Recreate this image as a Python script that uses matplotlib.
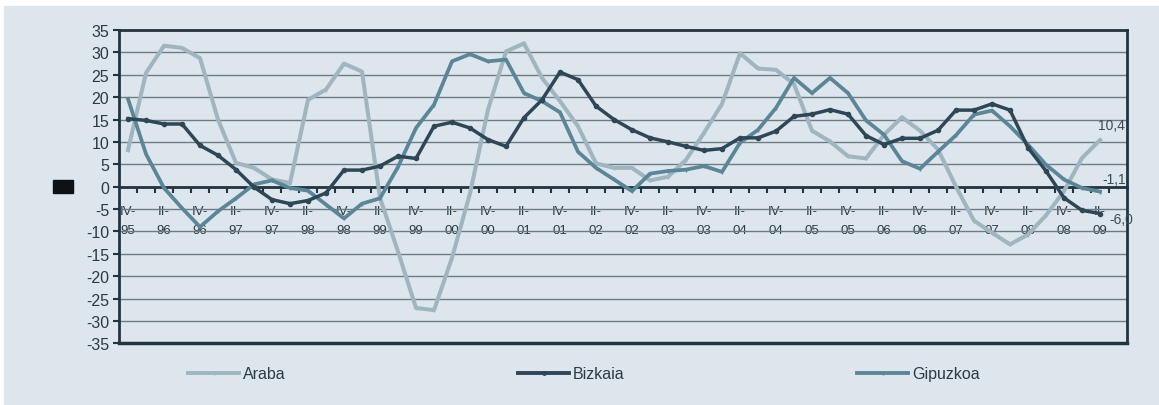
import numpy as np
import matplotlib
matplotlib.use('Agg')
import matplotlib.pyplot as plt
from matplotlib.lines import Line2D
from matplotlib.patches import Rectangle

plt.rcParams['font.family'] = ['Liberation Sans', 'DejaVu Sans']
plt.rcParams['axes.unicode_minus'] = False

# quarterly rate, IV-95 .. II-09
araba = [8.2, 25.4, 31.5, 31.0, 28.7, 15.0, 5.3, 4.2, 1.6, 0.8,
         19.4, 21.7, 27.5, 25.7, -2.5, -14.5, -27.1, -27.6, -15.9, -1.5,
         17.2, 30.2, 32.0, 24.3, 19.1, 13.5, 5.2, 4.2, 4.2, 1.4,
         2.2, 6.0, 12.0, 18.5, 29.8, 26.4, 26.1, 22.9, 12.5, 10.1,
         6.8, 6.3, 11.6, 15.5, 12.5, 8.3, 0.0, -7.6, -10.3, -12.9,
         -10.7, -6.4, -1.0, 6.4, 10.4]
bizkaia = [15.2, 14.8, 14.0, 14.0, 9.2, 7.0, 3.8, -0.1, -2.9, -3.8,
           -3.1, -1.4, 3.7, 3.7, 4.6, 6.8, 6.3, 13.5, 14.4, 13.1,
           10.5, 9.0, 15.4, 19.4, 25.6, 23.9, 18.0, 15.0, 12.7, 10.9,
           10.0, 9.0, 8.1, 8.5, 10.9, 10.9, 12.4, 15.7, 16.2, 17.2,
           16.2, 11.4, 9.4, 10.8, 10.8, 12.6, 17.1, 17.1, 18.5, 17.1,
           8.7, 3.5, -2.5, -5.3, -6.0]
gipuzkoa = [19.6, 7.3, -0.3, -4.8, -9.0, -5.5, -2.6, 0.5, 1.4, -0.3,
            -0.9, -4.0, -7.1, -3.8, -2.6, 4.4, 13.1, 18.3, 28.0, 29.6,
            28.0, 28.4, 20.9, 19.1, 16.6, 7.8, 4.2, 1.6, -1.0, 2.9,
            3.5, 3.8, 4.6, 3.3, 9.8, 12.7, 17.6, 24.3, 20.9, 24.3,
            20.9, 14.8, 11.6, 5.7, 4.0, 7.8, 11.5, 16.1, 17.0, 13.5,
            9.4, 4.9, 1.6, -0.3, -1.1]

quarters = ['IV-', 'II-'] * 14
years = ['95', '96', '96', '97', '97', '98', '98', '99', '99', '00',
         '00', '01', '01', '02', '02', '03', '03', '04', '04', '05',
         '05', '06', '06', '07', '07', '08', '08', '09']
n_cat = 56  # last slot left empty

end_labels = ['10,4', '-1,1', '-6,0']

bg = '#dde6ec'
dark = '#22343f'
c_araba = '#9fb6c0'
c_bizkaia = '#2e4756'
c_gipuzkoa = '#5b8697'

fig = plt.figure(figsize=(11.59, 4.06), dpi=100, facecolor='white')
fig.patches.append(Rectangle((4/1159, 0), 1, 1 - 7/406, transform=fig.transFigure,
                             color=bg, zorder=-10))
fig.patches.append(Rectangle((53/1159, 1 - 194/406), 20/1159, 13/406,
                             transform=fig.transFigure, color='#0c1216', zorder=5))

ax = fig.add_axes([119/1159, 1 - 344.3/406, 1008/1159, 313.3/406])
ax.set_facecolor(bg)

x = np.arange(len(araba))
ax.plot(x, araba, color=c_araba, lw=2.9, marker='|', ms=3, mew=1, zorder=3)
ax.plot(x, gipuzkoa, color=c_gipuzkoa, lw=2.7, marker='|', ms=3, mew=1, zorder=4)
ax.plot(x, bizkaia, color=c_bizkaia, lw=2.5, marker='o', ms=3, zorder=5)

ax.set_xlim(-0.5, n_cat - 0.5)
ax.set_ylim(-35, 35)
ax.set_yticks(np.arange(-35, 36, 5))
ax.yaxis.grid(True, color='#6d7b83', lw=1)
ax.set_axisbelow(True)

for s in ['left', 'right', 'top']:
    ax.spines[s].set_color(dark)
    ax.spines[s].set_linewidth(2)
ax.spines['bottom'].set_position(('data', 0))
ax.spines['bottom'].set_color(dark)
ax.spines['bottom'].set_linewidth(2)
ax.axhline(-35, color=dark, lw=2.5, clip_on=False, zorder=6)

ax.tick_params(axis='y', direction='out', length=4, width=1.5, color=dark,
               labelsize=11.5, labelcolor='#2b3a44', pad=3)
ax.set_xticks(np.arange(0.5, len(araba), 1))
ax.set_xticklabels([])
ax.tick_params(axis='x', which='major', direction='out', length=4, width=1.5, color=dark)
ax.set_xticks(np.arange(0, len(araba), 2), minor=True)
ax.set_xticklabels([q + '\n' + y for q, y in zip(quarters, years)], minor=True,
                   fontsize=9.5, color='#2b3a44', linespacing=1.75)
ax.tick_params(axis='x', which='minor', length=0, pad=13.5)

last = len(araba) - 1
txt = dict(fontsize=10, color='#3a4a55', ha='center', va='center')
ax.annotate(end_labels[0], (last, araba[-1]), xytext=(8, 11), textcoords='offset points', **txt)
ax.annotate(end_labels[1], (last, gipuzkoa[-1]), xytext=(10, 9), textcoords='offset points', **txt)
ax.annotate(end_labels[2], (last, bizkaia[-1]), xytext=(15, -4), textcoords='offset points', **txt)

# legend entries placed separately, like the original spread-out legend
names = ['Araba', 'Bizkaia', 'Gipuzkoa']
cols = [c_araba, c_bizkaia, c_gipuzkoa]
marks = ['|', 'o', '|']
starts = [188, 518, 857]
for name, c, m, px in zip(names, cols, marks, starts):
    h = Line2D([], [], color=c, lw=2.8, marker=m, ms=2.5)
    fig.legend([h], [name], loc='center left', bbox_to_anchor=(px/1159, 1 - 375/406),
               frameon=False, fontsize=11.5, handlelength=3.2, handletextpad=0.25,
               borderpad=0, borderaxespad=0, labelcolor='#2b3a44')

fig.savefig('out.png', dpi=100, facecolor=fig.get_facecolor())
